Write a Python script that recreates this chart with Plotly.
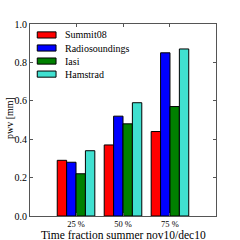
import plotly.graph_objects as go

categories = ["25 %", "50 %", "75 %"]
positions = [0, 1, 2]
summit08 = [0.29, 0.37, 0.44]
radiosoundings = [0.28, 0.52, 0.85]
iasi = [0.22, 0.48, 0.57]
hamstrad = [0.34, 0.59, 0.87]

series = [
    ("Summit08", summit08, "#ff0000"),
    ("Radiosoundings", radiosoundings, "#0000ff"),
    ("Iasi", iasi, "#008000"),
    ("Hamstrad", hamstrad, "#40e0d0"),
]

font = "Liberation Serif, DejaVu Serif, serif"

fig = go.Figure()
for i, (name, vals, col) in enumerate(series):
    fig.add_trace(go.Bar(x=positions, y=vals, name=name, width=0.2, showlegend=False,
                         marker=dict(color=col, line=dict(color="black", width=1))))
    # manual legend entry (matplotlib-style wide swatch)
    yc = 0.943 - i * 0.068
    fig.add_shape(type="rect", xref="paper", yref="paper",
                  x0=0.039, x1=0.14, y0=yc - 0.016, y1=yc + 0.016,
                  fillcolor=col, line=dict(color="black", width=1))
    fig.add_annotation(xref="paper", yref="paper", x=0.177, y=yc, text=name,
                       showarrow=False, xanchor="left", yanchor="middle",
                       font=dict(family=font, size=10, color="black"))

# axis titles
fig.add_annotation(xref="paper", yref="paper", x=0.5, y=0, yshift=-19,
                   text="Time fraction summer nov10/dec10", showarrow=False,
                   xanchor="center", yanchor="middle",
                   font=dict(family=font, size=11.5, color="black"))
fig.add_annotation(xref="paper", yref="paper", x=0, y=0.51, xshift=-21,
                   text="pwv [mm]", showarrow=False, textangle=-90,
                   xanchor="center", yanchor="middle",
                   font=dict(family=font, size=10, color="black"))

fig.update_layout(
    width=240, height=240,
    margin=dict(l=30, r=24, t=24, b=24),
    barmode="group", bargap=0.2, bargroupgap=0,
    plot_bgcolor="white", paper_bgcolor="white",
    font=dict(family=font, size=10, color="black"),
    showlegend=False,
)
fig.update_xaxes(
    range=[-0.98, 2.98], tickvals=positions, ticktext=categories,
    tickfont=dict(size=8.5),
    ticks="inside", ticklen=3, tickcolor="#555555", mirror="ticks", showline=True,
    linecolor="#555555", linewidth=1, showgrid=False, zeroline=False, automargin=False,
)
fig.update_yaxes(
    range=[0, 1.0], tickvals=[0, 0.2, 0.4, 0.6, 0.8, 1.0], tickformat=".1f",
    ticks="inside", ticklen=3, tickcolor="#555555", mirror="ticks", showline=True,
    linecolor="#555555", linewidth=1, showgrid=False, zeroline=False, automargin=False,
)
fig.write_html("out.html", config={"displayModeBar": False},
               post_script="document.body.style.margin='0px';")
